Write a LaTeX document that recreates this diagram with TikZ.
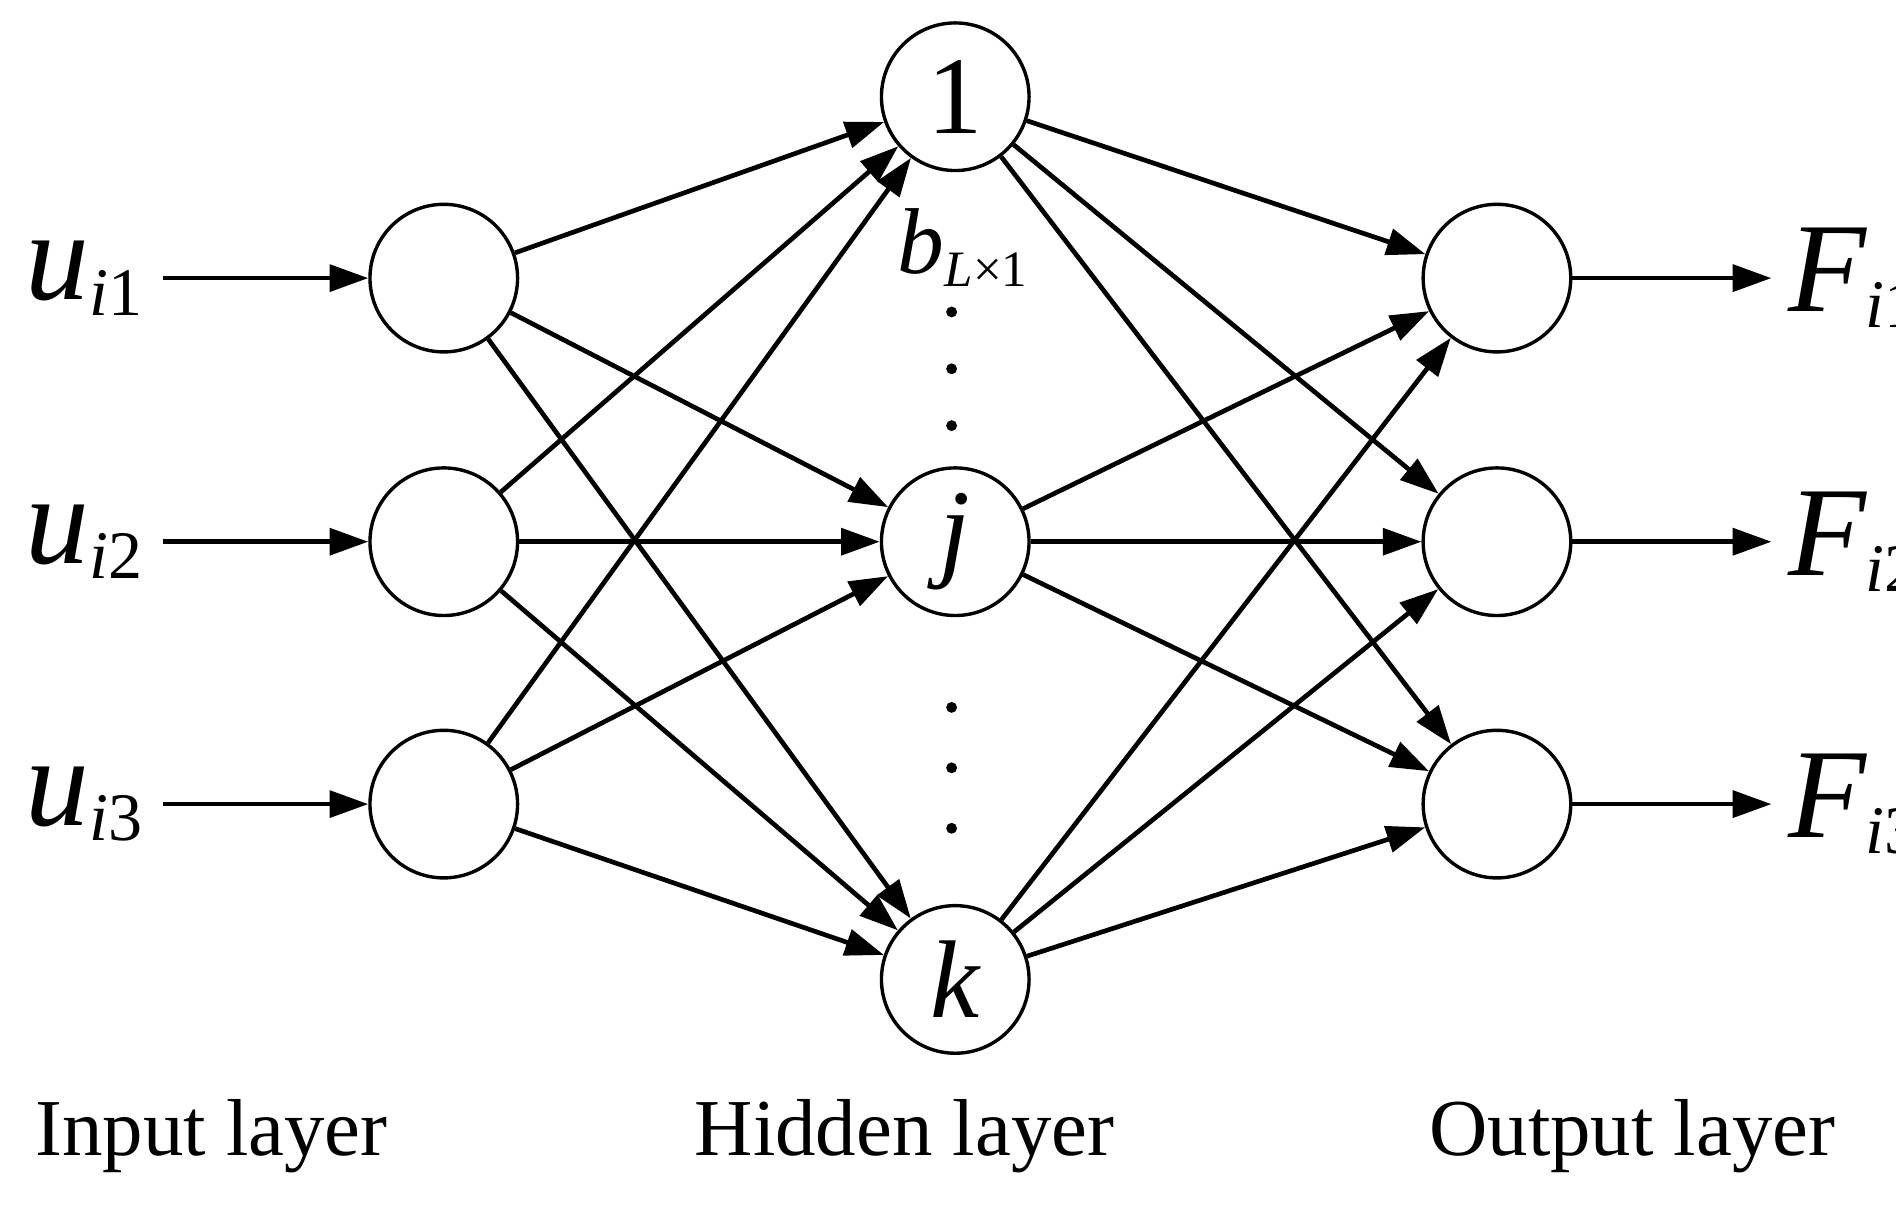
\documentclass[tikz,border=0pt]{standalone}
\usepackage{fontspec}
\setmainfont{Liberation Serif}
\usetikzlibrary{positioning,arrows.meta}

\begin{document}
\begin{tikzpicture}[x=0.01cm,y=-0.01cm,
    neuron/.style={circle, draw=black, thick, minimum size=1.22cm, inner sep=0pt, font=\fontsize{26}{28}\selectfont},
    conn/.style={-{Triangle[length=0.32cm,width=0.22cm]}, line width=1.1pt},
    io/.style={inner sep=0pt, font=\fontsize{30}{32}\selectfont\itshape},
    caption/.style={font=\fontsize{19}{22}\selectfont}
    ]
        \useasboundingbox (0,0) rectangle (1568,1000);
        %Nodes
        \foreach \n/\y in {1/230,2/448,3/665}{
            \node[neuron] (in\n) at (367,\y) {};
            \node[neuron] (out\n) at (1238,\y) {};
            \node[io, anchor=east] (u\n) at (120,\y) {u\textsubscript{\fontsize{16}{18}\selectfont i\upshape\n}};
            \node[io, anchor=west] (F\n) at (1478,\y) {F\textsubscript{\fontsize{16}{18}\selectfont i\upshape\n}};
            \coordinate (us\n) at (135,\y);
            \coordinate (fe\n) at (1465,\y);
        }
        \node[neuron] (h1) at (790,80)  {1};
        \node[neuron] (hj) at (790,448) {\itshape j};
        \node[neuron] (hk) at (790,810) {\itshape k};
        \node[font=\fontsize{22}{24}\selectfont] (bias) at (797,205) {\textit{b}\textsubscript{\fontsize{12}{14}\selectfont\textit{L}×1}};
        \foreach \y in {258,305,352,585,635,685}
            \fill (787,\y) circle (0.045cm);
        \node[caption] (capin)  at (175,940)  {Input layer};
        \node[caption] (caphid) at (748,940)  {Hidden layer};
        \node[caption] (capout) at (1350,940) {Output layer};

        %Lines
        \foreach \n in {1,2,3}{
            \draw[conn] (us\n) -- (in\n);
            \draw[conn] (out\n) -- (fe\n);
            \foreach \h in {1,j,k}{
                \draw[conn] (in\n) -- (h\h);
                \draw[conn] (h\h) -- (out\n);
            }
        }
    \end{tikzpicture}
\end{document}
